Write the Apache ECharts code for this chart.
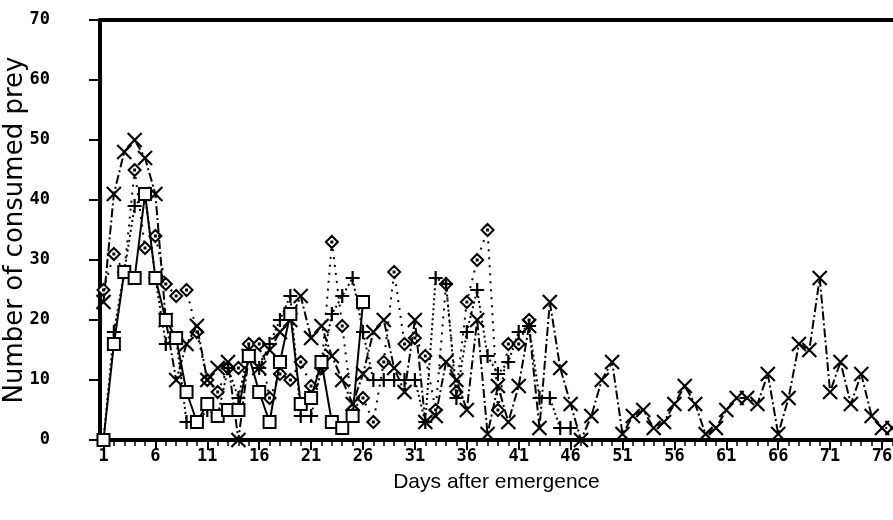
<!DOCTYPE html>
<html><head><meta charset="utf-8">
<script src="https://cdn.jsdelivr.net/npm/echarts@6/dist/echarts.min.js"></script>
<style>html,body{margin:0;padding:0;background:#fff}#c{width:893px;height:520px}</style>
</head><body><div id="c"></div>
<script>
const days = [1,2,3,4,5,6,7,8,9,10,11,12,13,14,15,16,17,18,19,20,21,22,23,24,25,26,27,28,29,30,31,32,33,34,35,36,37,38,39,40,41,42,43,44,45,46,47,48,49,50,51,52,53,54,55,56,57,58,59,60,61,62,63,64,65,66,67,68,69,70,71,72,73,74,75,76,77];
const xLabelTicks = [1,6,11,16,21,26,31,36,41,46,51,56,61,66,71,76];
const yTicks = [0,10,20,30,40,50,60,70];

const squareVals = [0,16,28,27,41,27,20,17,8,3,6,4,5,5,14,8,3,13,21,6,7,13,3,2,4,23];
const diamondVals = [25,31,28,45,32,34,26,24,25,18,10,8,12,12,16,16,7,11,10,13,9,12,33,19,5,7,3,13,28,16,17,14,5,26,8,23,30,35,5,16,16,20];
const plusVals = [0,18,28,39,41,27,16,17,3,3,5,4,12,7,15,12,16,20,24,4,4,12,21,24,27,18,10,10,10,10,10,3,27,26,7,18,25,14,11,13,18,19,7,7,2,2];
const crossVals = [23,41,48,50,47,41,20,10,16,19,10,12,13,0,14,12,15,18,20,24,17,19,14,10,6,11,18,20,12,8,20,3,4,13,10,5,20,1,9,3,9,19,2,23,12,6,0,4,10,13,1,4,5,2,3,6,9,6,1,2,5,7,7,6,11,1,7,16,15,27,8,13,6,11,4,2,2];

const pair = vals => vals.map((v,i)=>[days[i], v]);
const XMIN = 0.663, XMAX = 77.06;
const labelFont = {fontFamily:'DejaVu Sans Mono', fontWeight:'bold', fontSize:17, color:'#000'};

const chart = echarts.init(document.getElementById('c'), null, {renderer:'canvas'});
chart.setOption({
  animation:false,
  backgroundColor:'#fff',
  grid:{left:100, right:0, top:20, bottom:80, containLabel:false, outerBoundsMode:'none'},
  xAxis:[
    {type:'value', min:XMIN, max:XMAX, position:'bottom',
     axisLine:{show:true, onZero:false, lineStyle:{color:'#000', width:4}},
     axisTick:{show:true, customValues:xLabelTicks, length:10, lineStyle:{color:'#000', width:2}},
     axisLabel:Object.assign({customValues:xLabelTicks, margin:8, hideOverlap:false}, labelFont),
     splitLine:{show:false},
     name:'Days after emergence', nameLocation:'middle', nameGap:32,
     nameTextStyle:{fontFamily:'Liberation Sans', fontSize:21, color:'#000'}},
    {type:'value', min:XMIN, max:XMAX, position:'bottom',
     axisLine:{show:false},
     axisTick:{show:true, customValues:days, length:6, lineStyle:{color:'#000', width:1.5}},
     axisLabel:{show:false}, splitLine:{show:false}},
    {type:'value', min:XMIN, max:XMAX, position:'top',
     axisLine:{show:true, onZero:false, lineStyle:{color:'#000', width:4}},
     axisTick:{show:false}, axisLabel:{show:false}, splitLine:{show:false}}
  ],
  yAxis:{type:'value', min:0, max:70, interval:10,
     axisLine:{show:true, onZero:false, lineStyle:{color:'#000', width:4}},
     axisTick:{show:true, length:11, lineStyle:{color:'#000', width:2}},
     axisLabel:Object.assign({margin:50, formatter:v=>String(v)}, labelFont),
     splitLine:{show:false},
     name:'Number of consumed prey', nameLocation:'middle', nameGap:72, nameRotate:90, nameMoveOverlap:false,
     nameTextStyle:{fontFamily:'DejaVu Sans', fontSize:26, color:'#000'}},
  series:[
    {type:'line', name:'diamond', data:pair(diamondVals),
     symbol:'path://M5,0L10,5L5,10L0,5Z M4.6,4.6L5.4,4.6L5.4,5.4L4.6,5.4Z', symbolSize:12,
     lineStyle:{color:'#000', width:2, type:[2,6]}, itemStyle:{color:'#fff', borderColor:'#000', borderWidth:2}, z:3},
    {type:'line', name:'plus', data:pair(plusVals), symbol:'path://M5,0L5,10M0,5L10,5', symbolSize:14,
     lineStyle:{color:'#000', width:2, type:[2,3]}, itemStyle:{color:'none', borderColor:'#000', borderWidth:2.2}, z:4},
    {type:'line', name:'cross', data:pair(crossVals), symbol:'path://M0,0L10,10M10,0L0,10', symbolSize:14,
     lineStyle:{color:'#000', width:2, type:[9,3,2,3]}, itemStyle:{color:'none', borderColor:'#000', borderWidth:2.2}, z:5},
    {type:'line', name:'square', data:pair(squareVals), symbol:'rect', symbolSize:12,
     lineStyle:{color:'#000', width:2, type:'solid'}, itemStyle:{color:'#fff', borderColor:'#000', borderWidth:2}, z:6}
  ]
});
</script></body></html>
